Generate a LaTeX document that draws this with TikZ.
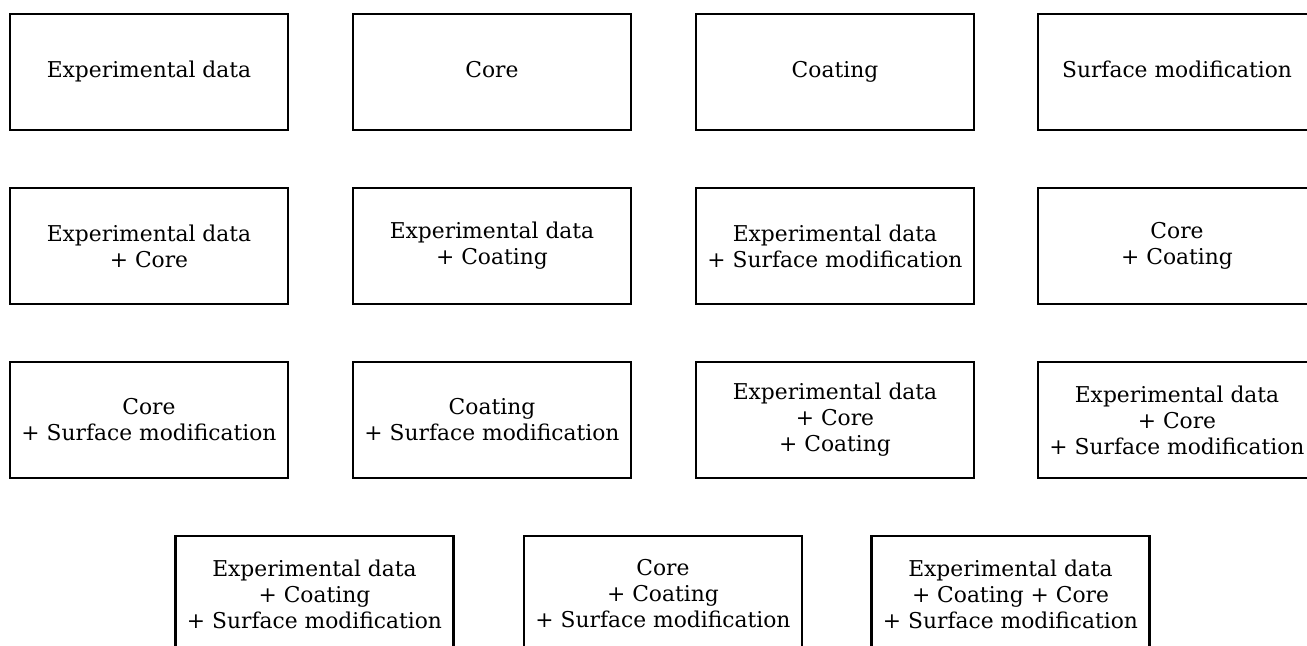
\documentclass[tikz,border=0pt]{standalone}
\usepackage{fontspec}
\setmainfont{DejaVu Serif}
\usepackage{tikz}
\usetikzlibrary{positioning}

\tikzset{
  combo/.style={draw,line width=1.2pt,minimum width=139pt,minimum height=58pt,
    inner sep=0pt,align=center,font=\fontsize{10.9}{13}\selectfont}
}

\begin{document}
\begin{tikzpicture}[x=0.5pt,y=-0.5pt]
\useasboundingbox (0,0) rectangle (1307,646);
\clip (0,0) rectangle (1307,646);
% single sources
\node[combo] (exp) at (149,72) {Experimental data\strut};
\node[combo] (core) at (492,72) {Core\strut};
\node[combo] (coat) at (835,72) {Coating\strut};
\node[combo] (surf) at (1177,72) {Surface modification\strut};
% pairs
\node[combo] (expcore) at (149,246) {Experimental data\\+ Core};
\node[combo] (expcoat) at (492,246) {Experimental data\\+ Coating};
\node[combo] (expsurf) at (835,246) {Experimental data\\+ Surface modification};
\node[combo] (corecoat) at (1177,246) {Core\\+ Coating};
\node[combo] (coresurf) at (149,420) {Core\\+ Surface modification};
\node[combo] (coatsurf) at (492,420) {Coating\\+ Surface modification};
% triples and all
\node[combo] (expcorecoat) at (835,420) {Experimental data\\+ Core\\+ Coating};
\node[combo] (expcoresurf) at (1177,420) {Experimental data\\+ Core\\+ Surface modification};
\node[combo] (expcoatsurf) at (314.5,594) {Experimental data\\+ Coating\\+ Surface modification};
\node[combo] (corecoatsurf) at (663,594) {Core\\+ Coating\\+ Surface modification};
\node[combo] (all) at (1010.5,594) {Experimental data\\+ Coating + Core\\+ Surface modification};
\end{tikzpicture}
\end{document}
